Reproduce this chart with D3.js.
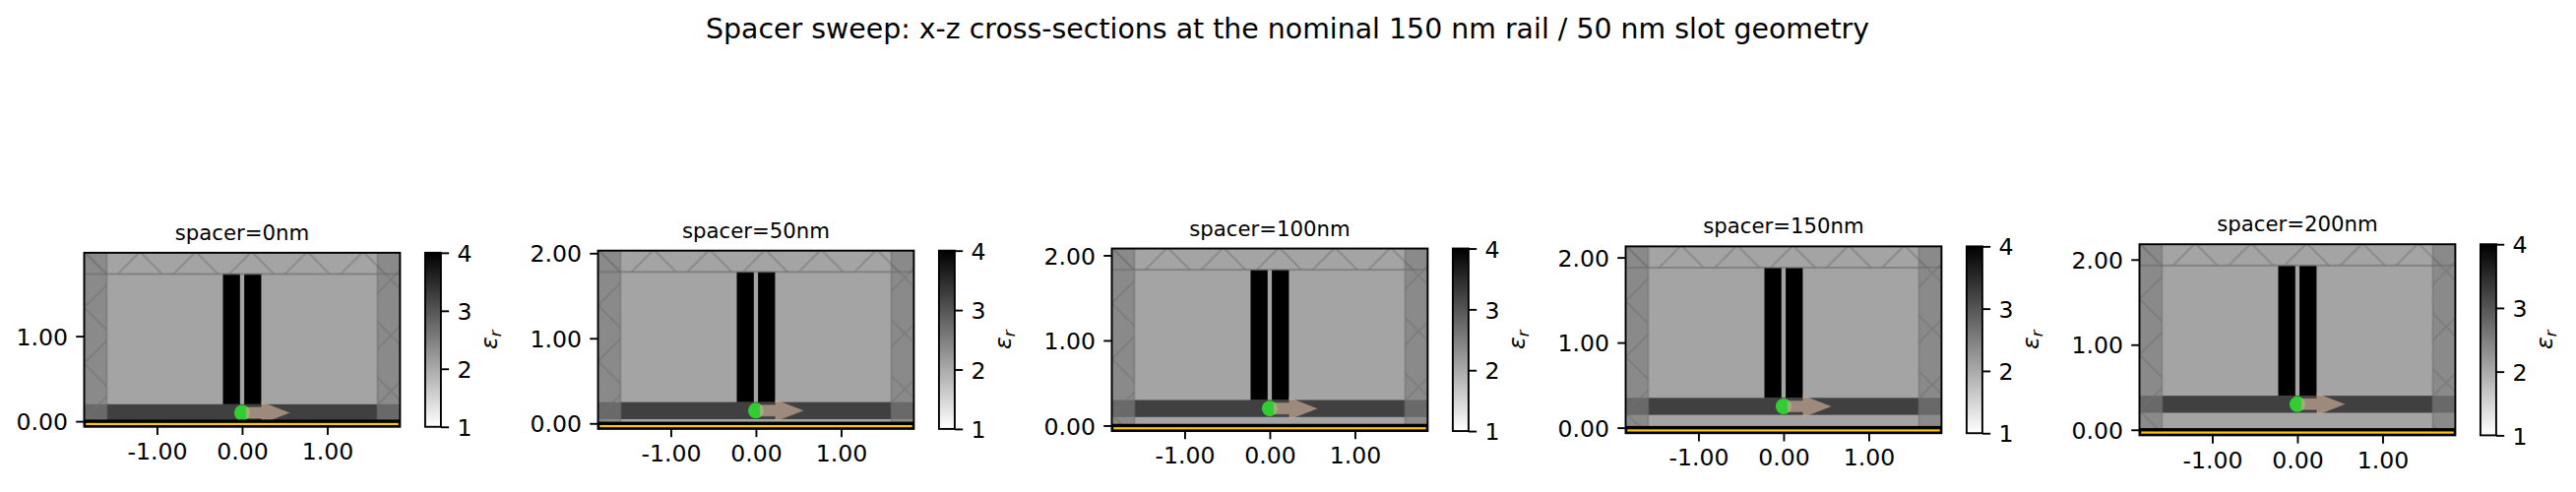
<!DOCTYPE html>
<html>
<head>
<meta charset="utf-8">
<script src="https://cdnjs.cloudflare.com/ajax/libs/d3/7.8.5/d3.min.js"></script>
<style>
	html, body { margin: 0; padding: 0; background: #fff; }
	svg { display: block; }
	text { font-family: "DejaVu Sans", sans-serif; fill: #000; }
</style>
</head>
<body>
<div id="chart"></div>
<script>
//chart values, all lengths in microns
const suptitle = "Spacer sweep: x-z cross-sections at the nominal 150 nm rail / 50 nm slot geometry";
const spacers = [0, 50, 100, 150, 200]; //nm
const xTicks = [-1, 0, 1];
const zTicks = [0, 1, 2];
const cbarTicks = [1, 2, 3, 4];
const xLim = [-1.855, 1.855];
const zMin = -0.065;
const pmlAbove = 0.25;
const pmlEdge = 1.59;
const layerHeight = 0.2;
const railHeight = 1.53;
const railsX = [[-0.225, -0.025], [0.025, 0.225]];
const epsCladding = 2.07;
const epsLayer = 3.25;
const epsRail = 4;
const sourceZ = 0.1; //above the spacer
const arrowX = [0.05, 0.23, 0.55];
const arrowZ = [0.064, 0.125];

//geometry
const width = 2617;
const height = 500;
const pxPerUnit = 86.5;
const midY = 345.3;
const firstLeft = 85.5;
const panelStep = 522;
const axW = xLim[1] - xLim[0];
const tickLen = 8.26;
const tickPad = 8.26;
const hatchP = 170 / 3; //hatch lattice is fixed on the page, not on the axes

const svg = d3.select("#chart").append("svg")
	.attr("width", width)
	.attr("height", height);

const defs = svg.append("defs");

const grad = defs.append("linearGradient")
	.attr("id", "cbarGrad")
	.attr("x1", 0).attr("y1", 1).attr("x2", 0).attr("y2", 0);
const epsColor = d3.scaleLinear().domain([1, 4]).range(["#ffffff", "#000000"]);
grad.selectAll("stop")
	.data(cbarTicks)
	.enter().append("stop")
		.attr("offset", d => (d - 1) / 3)
		.attr("stop-color", d => epsColor(d));

const pat = defs.append("pattern")
	.attr("id", "pmlHatch")
	.attr("patternUnits", "userSpaceOnUse")
	.attr("x", 141.7).attr("y", 254)
	.attr("width", hatchP).attr("height", hatchP);
pat.append("path")
	.attr("d", `M0,0L${hatchP},${hatchP}M${hatchP},0L0,${hatchP}`)
	.attr("stroke", "#6e6e6e")
	.attr("stroke-opacity", 0.48)
	.attr("stroke-width", 2);

svg.append("text")
	.attr("x", 1308)
	.attr("y", 38.5)
	.attr("text-anchor", "middle")
	.style("font-size", "28.4px")
	.text(suptitle);

spacers.forEach(function(spacer, i) {
	const s = spacer / 1000;
	const railTop = s + layerHeight + railHeight;
	const zMax = railTop + pmlAbove;
	const axH = (zMax - zMin) * pxPerUnit;
	const left = firstLeft + i * panelStep;
	const top = midY - axH / 2;
	const w = axW * pxPerUnit;

	const x = d3.scaleLinear().domain(xLim).range([0, w]);
	const y = d3.scaleLinear().domain([zMin, zMax]).range([axH, 0]);

	const g = svg.append("g").attr("transform", `translate(${left},${top})`);

	const clipId = "clip" + i;
	defs.append("clipPath").attr("id", clipId)
		.append("rect").attr("width", w).attr("height", axH);

	const plot = g.append("g").attr("clip-path", `url(#${clipId})`);

	function band(x0, x1, z0, z1) {
		return plot.append("rect")
			.attr("x", x(x0))
			.attr("y", y(z1))
			.attr("width", x(x1) - x(x0))
			.attr("height", y(z0) - y(z1));
	}

	//structure
	band(xLim[0], xLim[1], zMin, zMax).attr("fill", epsColor(epsCladding));
	band(xLim[0], xLim[1], s, s + layerHeight).attr("fill", epsColor(epsLayer));
	railsX.forEach(function(r) {
		band(r[0], r[1], s + layerHeight, railTop).attr("fill", epsColor(epsRail));
	});

	//absorbers on the sides and top
	[[xLim[0], -pmlEdge], [pmlEdge, xLim[1]]].forEach(function(e) {
		band(e[0], e[1], 0, zMax).attr("fill", "#7e7e7e").attr("fill-opacity", 0.68);
		band(e[0], e[1], 0, zMax).attr("fill", "url(#pmlHatch)");
		band(e[0], e[1], 0, zMax).attr("fill", "none").attr("stroke", "#6e6e6e").attr("stroke-opacity", 0.48).attr("stroke-width", 2);
	});
	band(xLim[0], xLim[1], railTop, zMax).attr("fill", "url(#pmlHatch)");
	band(xLim[0], xLim[1], railTop, zMax).attr("fill", "none").attr("stroke", "#6e6e6e").attr("stroke-opacity", 0.6).attr("stroke-width", 2);

	//dipole and source arrow
	const zc = s + sourceZ;
	plot.append("circle")
		.attr("cx", x(0))
		.attr("cy", y(zc))
		.attr("r", 8)
		.attr("fill", "#32cd32");

	const arrowPts = [
		[arrowX[0], zc - arrowZ[0]], [arrowX[1], zc - arrowZ[0]], [arrowX[1], zc - arrowZ[1]],
		[arrowX[2], zc],
		[arrowX[1], zc + arrowZ[1]], [arrowX[1], zc + arrowZ[0]], [arrowX[0], zc + arrowZ[0]]
	];
	plot.append("polygon")
		.attr("points", arrowPts.map(p => x(p[0]) + "," + y(p[1])).join(" "))
		.attr("fill", "#c6aa96")
		.attr("fill-opacity", 0.7)
		.attr("stroke", "#c6aa96")
		.attr("stroke-opacity", 0.25)
		.attr("stroke-width", 1.5);

	//metal ground, drawn over the arrow
	band(xLim[0], xLim[1], zMin, 0)
		.attr("fill", "#ffc800")
		.attr("stroke", "#000")
		.attr("stroke-width", 3.4);

	//spines
	g.append("rect")
		.attr("width", w).attr("height", axH)
		.attr("fill", "none")
		.attr("stroke", "#000")
		.attr("stroke-width", 1.9);

	function styleAxis(sel) {
		sel.select(".domain").remove();
		sel.selectAll("line").attr("stroke", "#000").attr("stroke-width", 1.9);
		sel.selectAll("text").style("font-size", "23.6px");
	}
	function centerLabels(sel) {
		sel.selectAll("text").attr("dy", "0.365em");
	}

	g.append("g")
		.attr("transform", `translate(0,${axH})`)
		.call(d3.axisBottom(x).tickValues(xTicks).tickFormat(d => d.toFixed(2)).tickSize(tickLen).tickPadding(tickPad))
		.call(styleAxis);

	g.append("g")
		.call(d3.axisLeft(y).tickValues(zTicks.filter(d => d < zMax)).tickFormat(d => d.toFixed(2)).tickSize(tickLen).tickPadding(tickPad))
		.call(styleAxis)
		.call(centerLabels);

	g.append("text")
		.attr("x", w / 2)
		.attr("y", -13)
		.attr("text-anchor", "middle")
		.style("font-size", "21.25px")
		.text("spacer=" + spacer + "nm");

	//colorbar
	const cbW = 16;
	const cb = g.append("g").attr("transform", `translate(${w + 25.5},0)`);
	const cy = d3.scaleLinear().domain([1, 4]).range([axH, 0]);
	cb.append("rect")
		.attr("width", cbW).attr("height", axH)
		.attr("fill", "url(#cbarGrad)")
		.attr("stroke", "#000")
		.attr("stroke-width", 1.9);
	cb.append("g")
		.attr("transform", `translate(${cbW},0)`)
		.call(d3.axisRight(cy).tickValues(cbarTicks).tickFormat(d3.format("d")).tickSize(tickLen).tickPadding(tickPad))
		.call(styleAxis)
		.call(centerLabels);

	const lab = g.append("text")
		.attr("transform", `translate(${w + 25.5 + cbW + 57},${axH / 2}) rotate(-90)`)
		.attr("text-anchor", "middle")
		.style("font-size", "23.6px")
		.style("font-style", "italic");
	lab.append("tspan").text("\u03b5");
	lab.append("tspan").attr("dy", 4).style("font-size", "16.5px").text("r");
});
</script>
</body>
</html>
